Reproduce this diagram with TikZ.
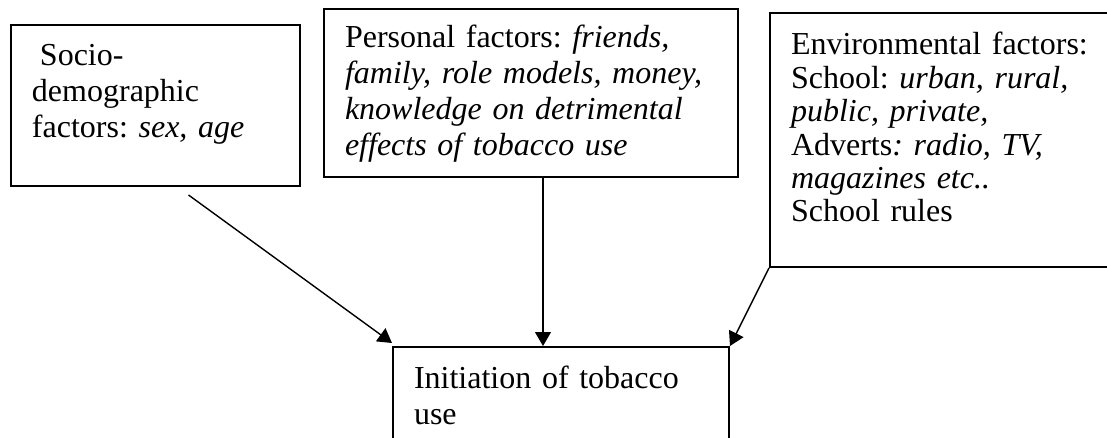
\documentclass[tikz,border=0pt]{standalone}
\usepackage{fontspec}
\setmainfont{Liberation Serif}[ItalicFont={Liberation Serif Italic}]
\usetikzlibrary{arrows.meta}

\begin{document}
\begin{tikzpicture}[
      x=0.5pt,y=-0.5pt,font=\fontsize{16}{18}\selectfont\frenchspacing,
      box/.style={draw,line width=1pt,anchor=north west,align=left,
                  inner xsep=10.5pt,inner ysep=0pt},
      arr/.style={-{Triangle[length=7pt,width=8pt]},line width=0.7pt}]
    \clip (0,0) rectangle (1107,438);
    \node[box,text width=123.5pt,text height=20.5pt,text depth=60pt] (socio) at (10,24)
      {\hspace*{0.25em}Socio-\\demographic\\factors: \textit{sex, age}};
    \node[box,text width=186pt,text height=19.5pt,text depth=64.5pt] (personal) at (323,8)
      {Personal factors: \textit{friends,}\\\textit{family, role models, money,}\\
       \textit{knowledge on detrimental}\\\textit{effects of tobacco use}};
    \node[box,font=\fontsize{16}{16.7}\selectfont\frenchspacing,
          text width=159.5pt,text height=21pt,text depth=106pt] (env) at (769,12)
      {Environmental factors:\\School: \textit{urban, rural,}\\\textit{public, private,}\\
       Adverts\textit{: radio, TV,}\\\textit{magazines etc..}\\School rules};
    \node[box,text width=147pt,text height=20.5pt,text depth=46.5pt] (init) at (392,346)
      {Initiation of tobacco\\use};
    \draw[arr] ([shift={(33,8)}]socio.south) -- ([shift={(0,-3)}]init.north west);
    \draw[arr] ([shift={(12,0)}]personal.south) -- ([shift={(12,0)}]personal.south |- init.north);
    \draw[arr] (env.south west) -- (init.north east);
\end{tikzpicture}
\end{document}
